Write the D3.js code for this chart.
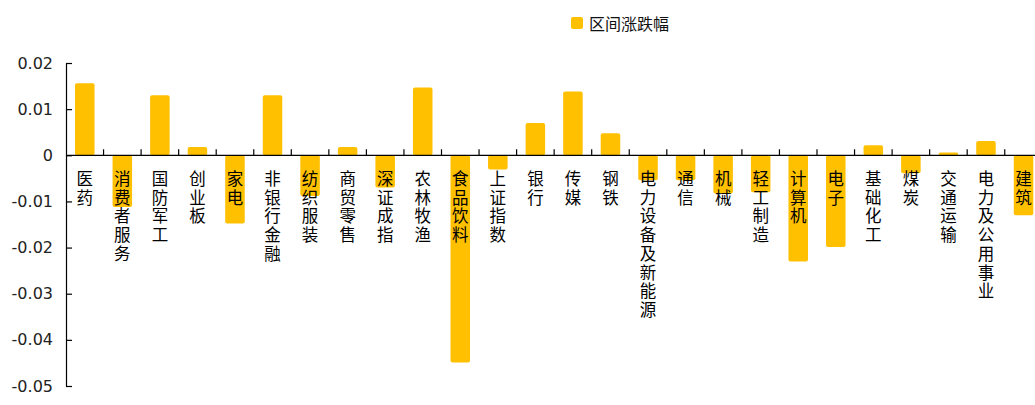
<!DOCTYPE html>
<html><head><meta charset="utf-8">
<script src="https://cdn.jsdelivr.net/npm/d3@7"></script>
<style>
html,body{margin:0;padding:0;background:#fff;overflow:hidden;}
svg{display:block;}
</style></head>
<body>
<svg id="chart" width="1035" height="405"></svg>
<script>
const categories = ["医药","消费者服务","国防军工","创业板","家电","非银行金融","纺织服装","商贸零售","深证成指","农林牧渔","食品饮料","上证指数","银行","传媒","钢铁","电力设备及新能源","通信","机械","轻工制造","计算机","电子","基础化工","煤炭","交通运输","电力及公用事业","建筑"];
const values = [0.0156,-0.0112,0.0130,0.0018,-0.0148,0.0130,-0.0088,0.0018,-0.0070,0.0147,-0.0449,-0.0031,0.0070,0.0138,0.0048,-0.0054,-0.0054,-0.0083,-0.0080,-0.0230,-0.0199,0.0022,-0.0039,0.0006,0.0031,-0.0130];
const yTicks = [0.02,0.01,0,-0.01,-0.02,-0.03,-0.04,-0.05];
const seriesName = "区间涨跌幅";
const barColor = "#FFC000";

const svg = d3.select("#chart");
const x0 = 66, step = 37.55;
const x = d3.scaleBand().domain(categories).range([x0, x0 + step*categories.length]).paddingInner(0.48).paddingOuter(0.24);
const y = d3.scaleLinear().domain([-0.05, 0.02]).range([386, 63]);

// bars
svg.append("g").selectAll("rect").data(categories).join("rect")
  .attr("x", d => x(d))
  .attr("width", x.bandwidth())
  .attr("y", (d,i) => Math.min(y(values[i]), y(0)))
  .attr("height", (d,i) => Math.abs(y(values[i]) - y(0)))
  .attr("rx", 2)
  .attr("fill", barColor);

// y axis
const yAxis = svg.append("g").attr("transform", `translate(${x0},0)`)
  .call(d3.axisLeft(y).tickValues(yTicks).tickSizeInner(-6).tickSizeOuter(0).tickPadding(13)
    .tickFormat(d => d === 0 ? "0" : d.toFixed(2)));
yAxis.select(".domain").attr("stroke", "#000").attr("stroke-width", 1.2);
yAxis.selectAll(".tick line").attr("stroke", "#000").attr("stroke-width", 1.2);
yAxis.selectAll("text").attr("font-family", "DejaVu Sans").attr("font-size", 16).attr("fill", "#222");

// zero line + category boundary ticks
const gx = svg.append("g");
gx.append("line").attr("x1", x0).attr("x2", 1035).attr("y1", y(0)).attr("y2", y(0)).attr("stroke", "#000").attr("stroke-width", 1.2);
gx.selectAll("line.t").data(categories).join("line").attr("class","t")
  .attr("x1", d => x(d) + x.bandwidth()/2 + x.step()/2)
  .attr("x2", d => x(d) + x.bandwidth()/2 + x.step()/2)
  .attr("y1", y(0)).attr("y2", y(0) - 6)
  .attr("stroke", "#000").attr("stroke-width", 1.2);

// vertical category labels, one character per line
const lab = svg.append("g");
categories.forEach(c => {
  const cx = x(c) + x.bandwidth()/2;
  Array.from(c).forEach((ch, j) => {
    lab.append("text").attr("x", cx).attr("y", 179 + j*18.7)
      .attr("text-anchor", "middle").attr("dominant-baseline", "central")
      .attr("font-family", "'Liberation Sans', 'Noto Sans CJK SC'").attr("font-size", 16.5).attr("fill", "#000")
      .text(ch);
  });
});

// legend
const lg = svg.append("g");
lg.append("rect").attr("x", 571).attr("y", 17).attr("width", 12).attr("height", 12).attr("rx", 2).attr("fill", barColor);
lg.append("text").attr("x", 589).attr("y", 23).attr("dominant-baseline", "central")
  .attr("font-family", "Noto Sans CJK SC").attr("font-size", 16).attr("fill", "#111").text(seriesName);
</script>
</body></html>
